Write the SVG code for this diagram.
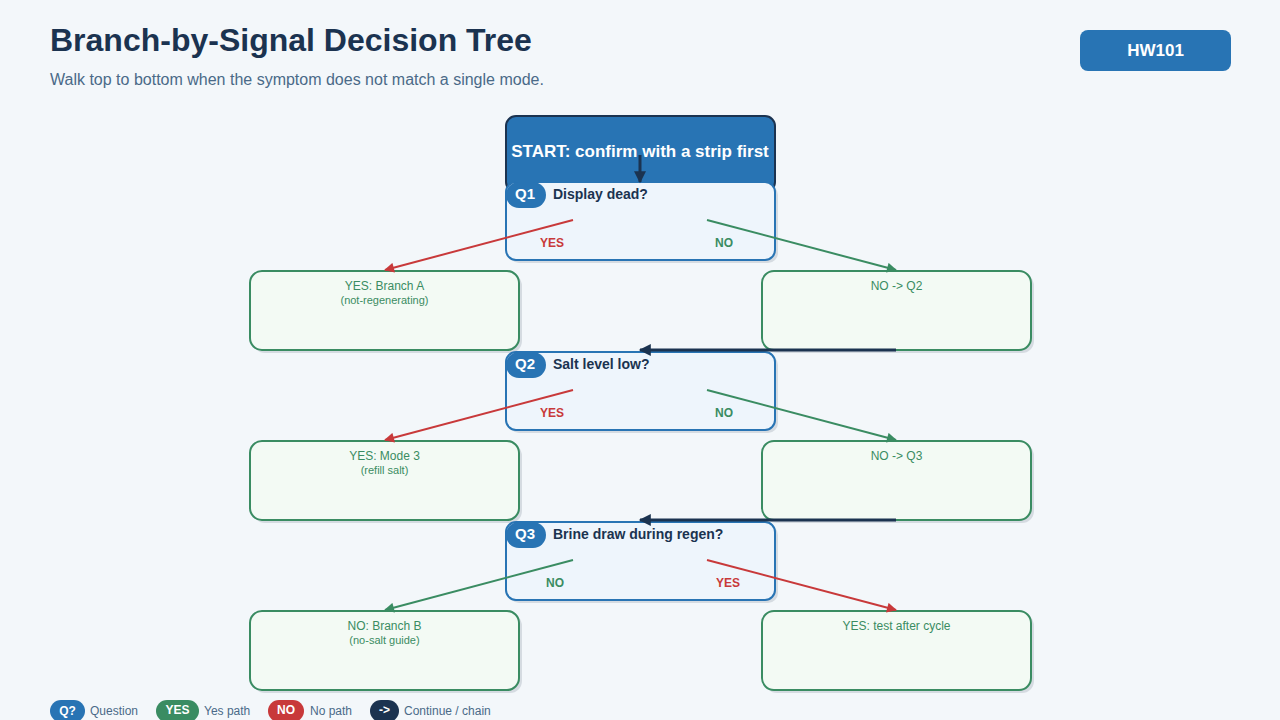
<svg xmlns="http://www.w3.org/2000/svg" width="1280" height="720" viewBox="0 0 1280 720">
<defs>
<style>
text{font-family:"Liberation Sans",Arial,Helvetica,sans-serif}
.title{font-size:32px;font-weight:bold;fill:#1b3350}
.sub{font-size:16px;fill:#4a6a88}
.start{fill:#2874b4;stroke:#1b3350;stroke-width:2}
.qbox{fill:#eef5fc;stroke:#2874b4;stroke-width:2}
.shadow{fill:#d5dbe1}
.rbox{fill:#f3faf4;stroke:#3a8c62;stroke-width:2}
.badge{fill:#2874b4}
.btxt{font-size:15px;font-weight:bold;fill:#fff}
.qtxt{font-size:14px;font-weight:bold;fill:#1b3350}
.yes{font-size:12px;font-weight:bold;fill:#c8393a}
.no{font-size:12px;font-weight:bold;fill:#3a8c62}
.rt{font-size:12px;fill:#3a8c62;text-anchor:middle}
.rs{font-size:11px;fill:#3a8c62;text-anchor:middle}
.red{stroke:#c8393a;stroke-width:2;fill:none}
.green{stroke:#3a8c62;stroke-width:2;fill:none}
.navy{stroke:#1b3350;stroke-width:3;fill:none}
.lg{font-size:12px;fill:#4a6a88}
.lp{font-size:12px;font-weight:bold;fill:#fff;text-anchor:middle}
</style>
<marker id="aR" viewBox="0 0 10 10" refX="9" refY="5" markerWidth="6" markerHeight="5" orient="auto" markerUnits="strokeWidth"><path d="M0,0L10,5L0,10z" fill="#c8393a"/></marker>
<marker id="aG" viewBox="0 0 10 10" refX="9" refY="5" markerWidth="6" markerHeight="5" orient="auto" markerUnits="strokeWidth"><path d="M0,0L10,5L0,10z" fill="#3a8c62"/></marker>
<marker id="aN" viewBox="0 0 10 10" refX="9" refY="5" markerWidth="4.5" markerHeight="4" orient="auto" markerUnits="strokeWidth"><path d="M0,0L10,5L0,10z" fill="#1b3350"/></marker>
</defs>
<rect width="1280" height="720" fill="#f3f7fa"/>
<g id="header">
<text x="50" y="51" class="title">Branch-by-Signal Decision Tree</text>
<text x="50" y="85" class="sub">Walk top to bottom when the symptom does not match a single mode.</text>
</g>
<g id="hw101">
<rect x="1080" y="30" width="151" height="41" rx="8" fill="#2874b4"/>
<text x="1155.5" y="56" font-size="17" font-weight="bold" fill="#fff" text-anchor="middle">HW101</text>
</g>
<g id="start">
<rect x="506" y="116" width="269" height="76" rx="10" class="start"/>
<text x="640" y="157" font-size="17" font-weight="bold" fill="#fff" text-anchor="middle">START: confirm with a strip first</text>
</g>
<g id="q1">
<rect x="509" y="185" width="269" height="78" rx="10" class="shadow"/>
<rect x="506" y="182" width="269" height="78" rx="10" class="qbox"/>
<rect x="506" y="182" width="40" height="26" rx="13" class="badge"/>
<text x="525" y="199" class="btxt" text-anchor="middle">Q1</text>
<text x="553" y="199" class="qtxt">Display dead?</text>
<text x="552" y="247" class="yes" text-anchor="middle">YES</text>
<text x="724" y="247" class="no" text-anchor="middle">NO</text>
</g>
<g id="yesA">
<rect x="253" y="274" width="269" height="79" rx="12" class="shadow"/>
<rect x="250" y="271" width="269" height="79" rx="12" class="rbox"/>
<text x="384.5" y="290" class="rt">YES: Branch A</text>
<text x="384.5" y="304" class="rs">(not-regenerating)</text>
</g>
<g id="noQ2">
<rect x="765" y="274" width="269" height="79" rx="12" class="shadow"/>
<rect x="762" y="271" width="269" height="79" rx="12" class="rbox"/>
<text x="896.5" y="290" class="rt">NO -&gt; Q2</text>
</g>
<g id="q2">
<rect x="509" y="355" width="269" height="78" rx="10" class="shadow"/>
<rect x="506" y="352" width="269" height="78" rx="10" class="qbox"/>
<rect x="506" y="352" width="40" height="26" rx="13" class="badge"/>
<text x="525" y="369" class="btxt" text-anchor="middle">Q2</text>
<text x="553" y="369" class="qtxt">Salt level low?</text>
<text x="552" y="417" class="yes" text-anchor="middle">YES</text>
<text x="724" y="417" class="no" text-anchor="middle">NO</text>
</g>
<g id="yesMode3">
<rect x="253" y="444" width="269" height="79" rx="12" class="shadow"/>
<rect x="250" y="441" width="269" height="79" rx="12" class="rbox"/>
<text x="384.5" y="460" class="rt">YES: Mode 3</text>
<text x="384.5" y="474" class="rs">(refill salt)</text>
</g>
<g id="noQ3">
<rect x="765" y="444" width="269" height="79" rx="12" class="shadow"/>
<rect x="762" y="441" width="269" height="79" rx="12" class="rbox"/>
<text x="896.5" y="460" class="rt">NO -&gt; Q3</text>
</g>
<g id="q3">
<rect x="509" y="525" width="269" height="78" rx="10" class="shadow"/>
<rect x="506" y="522" width="269" height="78" rx="10" class="qbox"/>
<rect x="506" y="522" width="40" height="26" rx="13" class="badge"/>
<text x="525" y="539" class="btxt" text-anchor="middle">Q3</text>
<text x="553" y="539" class="qtxt">Brine draw during regen?</text>
<text x="555" y="587" class="no" text-anchor="middle">NO</text>
<text x="728" y="587" class="yes" text-anchor="middle">YES</text>
</g>
<g id="noB">
<rect x="253" y="614" width="269" height="79" rx="12" class="shadow"/>
<rect x="250" y="611" width="269" height="79" rx="12" class="rbox"/>
<text x="384.5" y="630" class="rt">NO: Branch B</text>
<text x="384.5" y="644" class="rs">(no-salt guide)</text>
</g>
<g id="yesTest">
<rect x="765" y="614" width="269" height="79" rx="12" class="shadow"/>
<rect x="762" y="611" width="269" height="79" rx="12" class="rbox"/>
<text x="896.5" y="630" class="rt">YES: test after cycle</text>
</g>
<g id="connectors">
<line x1="640" y1="155" x2="640" y2="182" class="navy" marker-end="url(#aN)"/>
<line x1="573" y1="220" x2="385" y2="270" class="red" marker-end="url(#aR)"/>
<line x1="707" y1="220" x2="896" y2="270" class="green" marker-end="url(#aG)"/>
<line x1="896" y1="350" x2="640" y2="350" class="navy" marker-end="url(#aN)"/>
<line x1="573" y1="390" x2="385" y2="440" class="red" marker-end="url(#aR)"/>
<line x1="707" y1="390" x2="896" y2="440" class="green" marker-end="url(#aG)"/>
<line x1="896" y1="520" x2="640" y2="520" class="navy" marker-end="url(#aN)"/>
<line x1="573" y1="560" x2="385" y2="610" class="green" marker-end="url(#aG)"/>
<line x1="707" y1="560" x2="896" y2="610" class="red" marker-end="url(#aR)"/>
</g>
<g id="legend">
<rect x="50" y="700" width="35" height="22" rx="11" fill="#2874b4"/>
<text x="67.5" y="715" class="lp">Q?</text>
<text x="90" y="715" class="lg">Question</text>
<rect x="156" y="700" width="43" height="22" rx="11" fill="#3a8c62"/>
<text x="177.5" y="714" class="lp">YES</text>
<text x="204" y="715" class="lg">Yes path</text>
<rect x="268" y="700" width="36" height="22" rx="11" fill="#c8393a"/>
<text x="286" y="714" class="lp">NO</text>
<text x="310" y="715" class="lg">No path</text>
<rect x="370" y="700" width="29" height="22" rx="11" fill="#1b3350"/>
<text x="384.5" y="714" class="lp">-&gt;</text>
<text x="404" y="715" class="lg">Continue / chain</text>
</g>
</svg>
